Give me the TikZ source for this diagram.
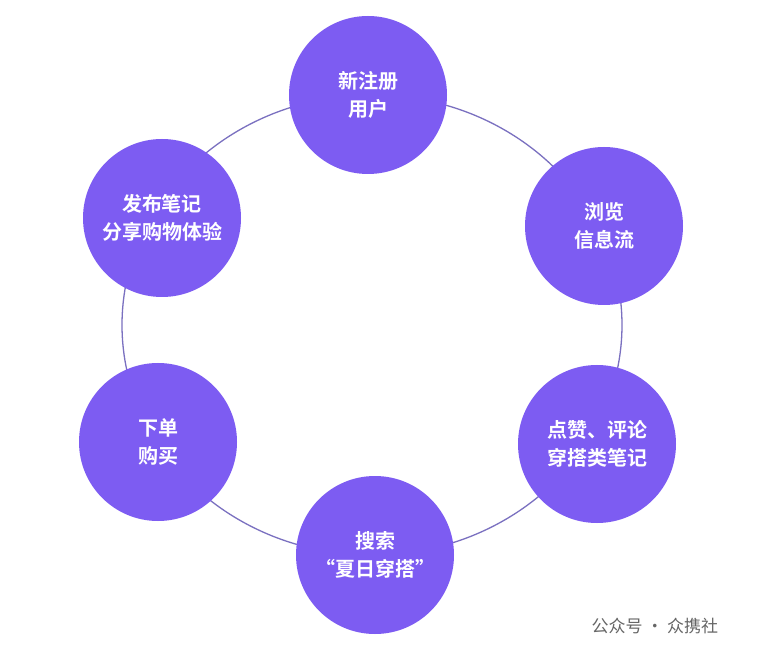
\documentclass[tikz,border=0pt]{standalone}
\usepackage{fontspec}
\newfontfamily\cjk{Noto Sans CJK SC}
\newfontfamily\cjkb{Noto Sans CJK SC Bold}
\definecolor{pp}{HTML}{7D5CF2}
\definecolor{ring}{HTML}{7A70C0}
\begin{document}
\begin{tikzpicture}[x=1pt,y=-1pt,
  stage/.style={circle,fill=pp,minimum size=158pt,inner sep=0pt,text=white,align=center,font=\cjkb\fontsize{20}{28}\selectfont}]
\useasboundingbox (0,0) rectangle (764,655);
\fill[white] (0,0) rectangle (764,655);
\draw[ring,line width=1.3pt] (372,325) ellipse [x radius=250,y radius=230];
\node[stage] (a) at (368,95) {新注册\\用户};
\node[stage] (b) at (604,226) {浏览\\信息流};
\node[stage] (c) at (597,444) {点赞、评论\\穿搭类笔记};
\node[stage] (d) at (375,555) {搜索\\“夏日穿搭”};
\node[stage] (e) at (158,442) {下单\\购买};
\node[stage] (f) at (162,218) {发布笔记\\分享购物体验};
\node[text=black!60,font=\cjk\fontsize{17}{20}\selectfont,anchor=west] (w) at (588,626) {公众号 · 众携社};
\end{tikzpicture}
\end{document}
